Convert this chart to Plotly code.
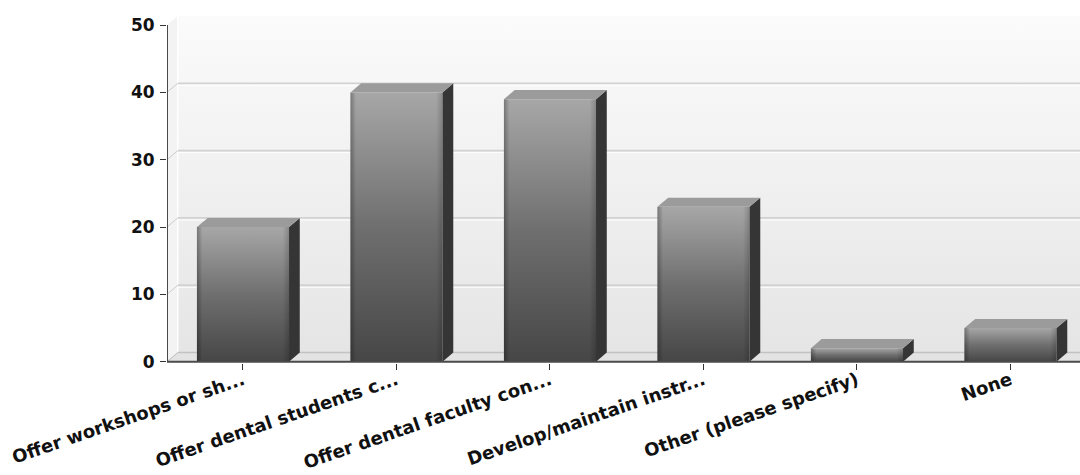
import plotly.graph_objects as go

# Survey responses per activity
categories = [
    "Offer workshops or sh...",
    "Offer dental students c...",
    "Offer dental faculty con...",
    "Develop/maintain instr...",
    "Other (please specify)",
    "None",
]
values = [20, 40, 39, 23, 2, 5]
y_ticks = [0, 10, 20, 30, 40, 50]

# Pseudo-3D geometry (in axis units)
HALF_W = 0.30      # half width of a bar's front face
DX = 0.07          # depth offset along x
DY = 1.35          # depth offset along y
X_LEFT = -0.495
X_RIGHT = 5.453
Y_TOP = 50

Y_FONT = dict(family="DejaVu Sans", size=17, color="#111111", weight="bold")
X_FONT = dict(family="DejaVu Sans", size=18, color="#111111", weight="bold")

fig = go.Figure()


def poly(xs, ys, color=None, gradient=None):
    kw = dict(
        x=list(xs) + [xs[0]],
        y=list(ys) + [ys[0]],
        mode="lines",
        line=dict(width=0),
        fill="toself",
        hoverinfo="skip",
        showlegend=False,
    )
    if gradient is not None:
        kw["fillgradient"] = gradient
    else:
        kw["fillcolor"] = color
    fig.add_trace(go.Scatter(**kw))


def seg(x0, y0, x1, y1, color, width):
    fig.add_trace(go.Scatter(
        x=[x0, x1], y=[y0, y1], mode="lines",
        line=dict(color=color, width=width),
        hoverinfo="skip", showlegend=False,
    ))


# Back wall with a soft vertical gradient
poly([X_LEFT + DX, X_RIGHT, X_RIGHT, X_LEFT + DX],
     [DY, DY, Y_TOP + DY, Y_TOP + DY],
     gradient=dict(type="vertical",
                   colorscale=[[0, "#e5e5e5"], [1, "#fbfbfb"]]))

# Left side wall
poly([X_LEFT, X_LEFT, X_LEFT + DX, X_LEFT + DX],
     [0, Y_TOP, Y_TOP + DY, DY], color="#f3f3f3")
seg(X_LEFT + DX, DY, X_LEFT + DX, Y_TOP + DY, "#ffffff", 1.5)

# Floor
poly([X_LEFT, X_RIGHT, X_RIGHT, X_LEFT + DX],
     [0, 0, DY, DY], color="#e3e3e3")
seg(X_LEFT + DX, DY, X_RIGHT, DY, "#c2c2c2", 1.5)
seg(X_LEFT, 0, X_LEFT + DX, DY, "#bdbdbd", 1)

# Gridlines on the back wall and their diagonals on the side wall
for v in y_ticks[1:-1]:
    seg(X_LEFT + DX, v + DY, X_RIGHT, v + DY, "#d2d2d2", 1.8)
    seg(X_LEFT + DX, v + DY - 0.3, X_RIGHT, v + DY - 0.3, "#ffffff", 1)
    seg(X_LEFT, v, X_LEFT + DX, v + DY, "#cccccc", 1)

# Bars: front face, edge shading, side face and top face
for i, v in enumerate(values):
    x0, x1 = i - HALF_W, i + HALF_W
    poly([x0, x1, x1, x0], [0, 0, v, v],
         gradient=dict(type="vertical",
                       colorscale=[[0, "#464646"], [0.5, "#6f6f6f"], [1, "#a7a7a7"]]))
    poly([x0, x1, x1, x0], [0, 0, v, v],
         gradient=dict(type="horizontal",
                       colorscale=[[0, "rgba(0,0,0,0.28)"], [0.06, "rgba(0,0,0,0)"],
                                   [0.93, "rgba(0,0,0,0)"], [1, "rgba(0,0,0,0.18)"]]))
    poly([x1, x1, x1 + DX, x1 + DX], [0, v, v + DY, DY], color="#353535")
    poly([x0, x0 + DX, x1 + DX, x1], [v, v + DY, v + DY, v], color="#9b9b9b")

# Axis lines
seg(X_LEFT, 0, X_RIGHT, 0, "#4a4a4a", 2)
seg(X_LEFT, 0, X_LEFT, Y_TOP, "#4a4a4a", 2)

fig.update_layout(
    width=1080,
    height=475,
    margin=dict(l=167, r=0, t=16, b=112),
    paper_bgcolor="#ffffff",
    plot_bgcolor="#ffffff",
    showlegend=False,
    xaxis=dict(
        range=[X_LEFT, X_RIGHT],
        tickmode="array",
        tickvals=list(range(len(categories))),
        ticktext=categories,
        tickangle=-19,
        ticks="outside",
        ticklen=6,
        tickcolor="#333333",
        tickfont=X_FONT,
        ticklabelstandoff=-7,
        showgrid=False,
        zeroline=False,
        showline=False,
        automargin=False,
        fixedrange=True,
    ),
    yaxis=dict(
        range=[-0.2, Y_TOP + DY],
        tickmode="array",
        tickvals=y_ticks,
        ticktext=[str(t) for t in y_ticks],
        ticks="outside",
        ticklen=6,
        tickcolor="#333333",
        tickfont=Y_FONT,
        ticklabelstandoff=2,
        showgrid=False,
        zeroline=False,
        showline=False,
        automargin=False,
        fixedrange=True,
    ),
)

fig.write_html("out.html")
